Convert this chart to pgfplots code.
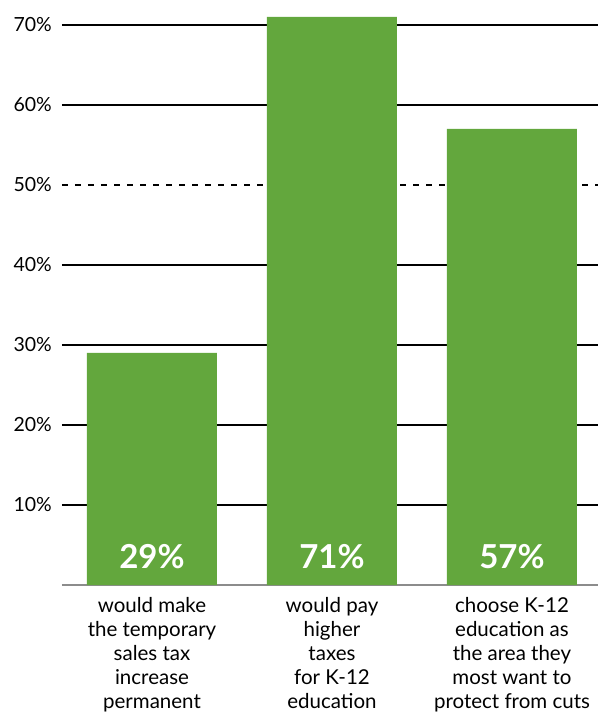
\documentclass[border=0pt]{standalone}
\usepackage{pgfplots}
\pgfplotsset{compat=1.18}
\usepackage{fontspec}
\setmainfont{Lato}
\definecolor{bargreen}{RGB}{99,167,61}
\begin{document}
\begin{tikzpicture}[x=1pt,y=1pt]
\useasboundingbox (0,0) rectangle (598,715);
\begin{axis}[
  at={(62pt,130pt)}, anchor=south west,
  scale only axis, width=536pt, height=585pt,
  xmin=-0.5, xmax=2.478, ymin=0, ymax=73.125,
  axis x line*=bottom, axis y line*=left,
  y axis line style={draw=none},
  x axis line style={draw={rgb,255:red,140;green,140;blue,140}, line width=2.5pt, -},
  major tick length=0pt,
  xtick={0,1,2},
  xticklabels={{would make\\the temporary\\sales tax\\increase\\permanent},
               {would pay\\higher\\taxes\\for K-12\\education},
               {choose K-12\\education as\\the area they\\most want to\\protect from cuts}},
  xticklabel style={align=center, font=\fontsize{20.5}{24}\selectfont, inner sep=0pt, yshift=-12pt},
  ytick={10,20,30,40,60,70},
  extra y ticks={50},
  yticklabel={\pgfmathprintnumber{\tick}\%},
  extra y tick style={grid style={black, line width=1.2pt, dash pattern=on 6pt off 7pt}},
  /pgf/number format/assume math mode=true,
  yticklabel style={font=\fontsize{19.5}{22}\selectfont, anchor=east, inner sep=0pt, xshift=-10pt},
  ymajorgrids,
  grid style={black, line width=1.3pt},
  clip=false,
]
\addplot[ybar, bar width=130pt, bar shift=0pt, fill=bargreen, draw=none]
  coordinates {(0,29) (1,71) (2,57)};
\addplot[draw=none, mark=none, nodes near coords, point meta=explicit symbolic,
  every node near coord/.append style={anchor=center, text=white, font=\fontsize{33}{33}\bfseries\selectfont, inner sep=0pt}]
  table[meta=label, row sep=\\] {x y label\\ 0 3.6 29\%\\ 1 3.6 71\%\\ 2 3.6 57\%\\};
\end{axis}
\end{tikzpicture}
\end{document}
